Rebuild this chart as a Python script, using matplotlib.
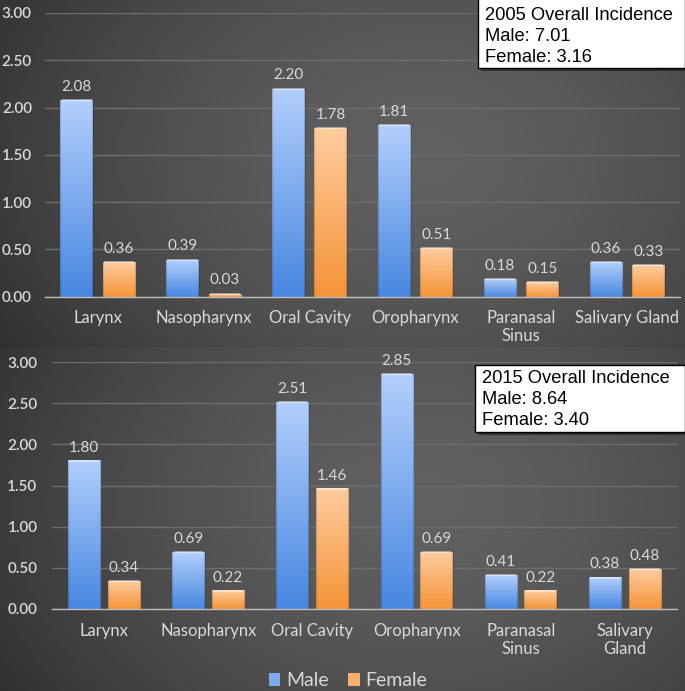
import numpy as np
import matplotlib
matplotlib.use("Agg")
import matplotlib.pyplot as plt
from matplotlib.patches import Patch, Rectangle

plt.rcParams['font.family'] = ['Lato', 'DejaVu Sans']

categories_2005 = ["Larynx", "Nasopharynx", "Oral Cavity", "Oropharynx", "Paranasal\nSinus", "Salivary Gland"]
categories_2015 = ["Larynx", "Nasopharynx", "Oral Cavity", "Oropharynx", "Paranasal\nSinus", "Salivary\nGland"]
male_2005 = [2.08, 0.39, 2.20, 1.81, 0.18, 0.36]
female_2005 = [0.36, 0.03, 1.78, 0.51, 0.15, 0.33]
male_2015 = [1.80, 0.69, 2.51, 2.85, 0.41, 0.38]
female_2015 = [0.34, 0.22, 1.46, 0.69, 0.22, 0.48]
yticks = [0.0, 0.5, 1.0, 1.5, 2.0, 2.5, 3.0]
box_2005 = "2005 Overall Incidence\nMale: 7.01\nFemale: 3.16"
box_2015 = "2015 Overall Incidence\nMale: 8.64\nFemale: 3.40"
series_names = ["Male", "Female"]

W, H = 685, 691
fig = plt.figure(figsize=(W / 100, H / 100), dpi=100)

# background gradients (two panels)
bg = fig.add_axes([0, 0, 1, 1], zorder=-10)
bg.set_axis_off()
ny, nx = 400, 400
yy, xx = np.mgrid[0:1:ny * 1j, 0:1:nx * 1j]
img = np.zeros((ny, nx))
split = 1 - 347 / H
for (lo, hi) in [(0, split), (split, 1)]:
    m = (yy >= lo) & (yy <= hi)
    cy = lo + (hi - lo) * 0.55
    d = np.sqrt(((xx - 0.62) / 0.75) ** 2 + ((yy - cy) / ((hi - lo) * 1.1)) ** 2)
    v = 0.38 - 0.20 * np.clip(d, 0, 1.2) ** 1.6
    img[m] = v[m]
rgb = np.clip(np.dstack([img, img, img]), 0, 1)
bg.imshow(rgb, extent=[0, 1, 0, 1], origin='lower', aspect='auto')
bg.set_xlim(0, 1)
bg.set_ylim(0, 1)

male_top, male_bot = np.array([0.70, 0.81, 0.99]), np.array([0.28, 0.53, 0.88])
fem_top, fem_bot = np.array([1.00, 0.80, 0.62]), np.array([0.96, 0.58, 0.22])


def grad_img(top, bot):
    n = 300
    t = np.linspace(0, 1, n)[:, None]
    col = bot[None, :] * (1 - t) + top[None, :] * t
    arr = np.repeat(col[:, None, :], 30, axis=1)
    arr[:, :1, :] *= 0.85
    arr[:, -1:, :] *= 0.85
    return np.clip(arr, 0, 1)


male_img = grad_img(male_top, male_bot)
fem_img = grad_img(fem_top, fem_bot)

txtc = '#d9d9d9'


def panel(rect, cats, male, female, off, box_rect, text_top, box_text, ylabel_pad):
    ax = fig.add_axes(rect)
    ax.set_facecolor('none')
    x = np.arange(len(cats))
    bw = 0.31
    b1 = ax.bar(x - off, male, bw, color='none', zorder=3)
    b2 = ax.bar(x + off, female, bw, color='none', zorder=3)
    for bars, im in [(b1, male_img), (b2, fem_img)]:
        for r in bars:
            x0, y0, w, h = r.get_x(), r.get_y(), r.get_width(), r.get_height()
            ax.imshow(im, extent=[x0, x0 + w, y0, y0 + h], origin='lower',
                      aspect='auto', zorder=3, interpolation='bilinear')
            r.set_edgecolor((0, 0, 0, 0.15))
            r.set_linewidth(0.6)
            ax.plot([x0 + w * 0.04, x0 + w * 0.96], [y0 + h, y0 + h], color=(1, 1, 1, 0.55),
                    linewidth=1.2, zorder=4, solid_capstyle='butt')
    for bars, vals in [(b1, male), (b2, female)]:
        for r, v in zip(bars, vals):
            ax.annotate(f"{v:.2f}", (r.get_x() + r.get_width() / 2, r.get_height()),
                        xytext=(0, 4.5), textcoords='offset points', ha='center',
                        va='bottom', color=txtc, fontsize=11)
    ax.set_xlim(-0.5, len(cats) - 0.5)
    ax.set_ylim(0, 3.0)
    ax.set_yticks(yticks)
    ax.set_yticklabels([f"{t:.2f}" for t in yticks], color=txtc, fontsize=11,
                       fontweight='semibold')
    ax.set_xticks(x)
    ax.set_xticklabels(cats, color=txtc, fontsize=12, linespacing=1.15)
    ax.tick_params(axis='both', length=0)
    ax.tick_params(axis='y', pad=ylabel_pad)
    ax.tick_params(axis='x', pad=10)
    ax.yaxis.grid(True, color='#6e6e6e', linewidth=1.0, zorder=0)
    ax.set_axisbelow(True)
    for s in ['top', 'right', 'left']:
        ax.spines[s].set_visible(False)
    ax.spines['bottom'].set_color('#bdbdbd')
    ax.spines['bottom'].set_linewidth(1.0)
    ax.spines['bottom'].set_zorder(4)
    # text box
    bx0, by0, bx1, by1 = box_rect
    sh = Rectangle((bx0 / W + 3 / W, 1 - by1 / H - 3 / H), (bx1 - bx0) / W, (by1 - by0) / H,
                   transform=fig.transFigure, facecolor=(0, 0, 0, 0.45), edgecolor='none', zorder=5)
    fig.add_artist(sh)
    bx = Rectangle((bx0 / W, 1 - by1 / H), (bx1 - bx0) / W, (by1 - by0) / H,
                   transform=fig.transFigure, facecolor='white', edgecolor='black',
                   linewidth=1.0, zorder=6)
    fig.add_artist(bx)
    fig.text((bx0 + 7) / W, 1 - text_top / H, box_text, ha='left', va='top',
             fontsize=13.2, family=['Liberation Sans', 'DejaVu Sans'], color='black',
             linespacing=1.3, zorder=7)
    return ax


panel([45 / W, 1 - 296.5 / H, 635 / W, 283.5 / H], categories_2005, male_2005, female_2005,
      0.2, (478, -3, 685, 68), 7, box_2005, 9.5)
panel([52 / W, 1 - 609 / H, 625 / W, 247 / H], categories_2015, male_2015, female_2015,
      0.19, (475, 365, 685, 432), 370, box_2015, 10.5)

handles = [Patch(facecolor=(male_top + male_bot) / 2, edgecolor='none'),
           Patch(facecolor=(fem_top + fem_bot) / 2, edgecolor='none')]
leg = fig.legend(handles, series_names, loc='center', bbox_to_anchor=(0.508, 1 - 681 / H),
                 ncol=2, frameon=False, fontsize=14, handlelength=0.6, handleheight=0.6,
                 handletextpad=0.3, columnspacing=1.0)
for t in leg.get_texts():
    t.set_color(txtc)

fig.savefig("out.png", dpi=100)
